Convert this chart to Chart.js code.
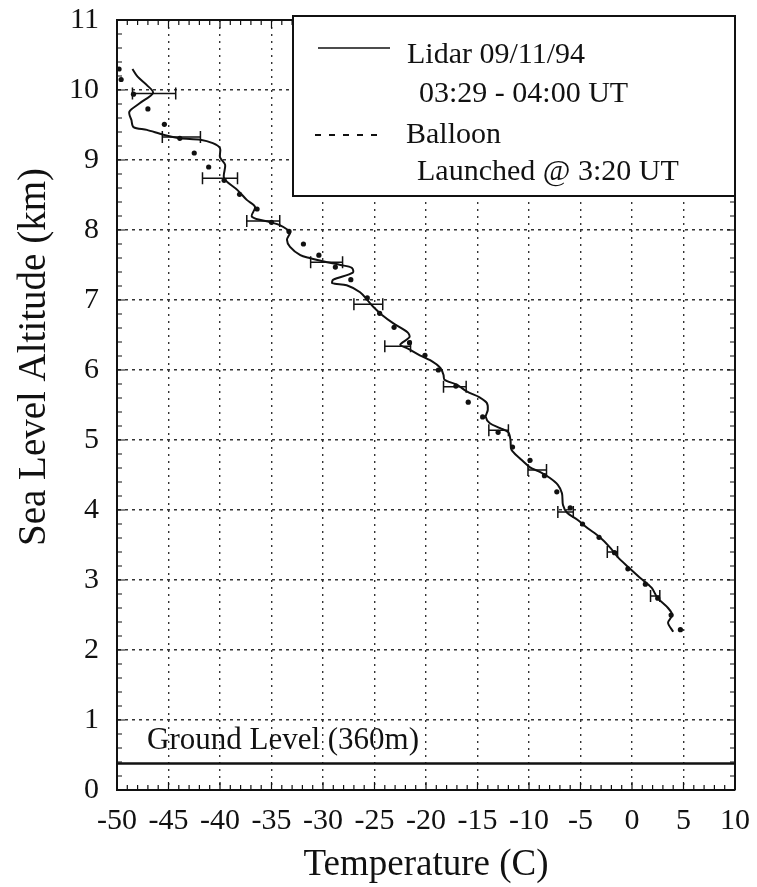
<!DOCTYPE html>
<html>
<head>
<meta charset="utf-8">
<title>Lidar vs balloon temperature profile</title>
<script src="https://cdn.jsdelivr.net/npm/chart.js@4.4.1/dist/chart.umd.min.js"></script>
<style>
  html, body { margin: 0; padding: 0; background: #fff; }
  #profile { display: block; }
</style>
</head>
<body>
<canvas id="profile" width="757" height="887"></canvas>
<script>
// lidar profile, top to bottom (temperature C / altitude km)
const lidarTemp = [-48.5, -48.0, -47.1, -46.5, -47.8, -48.8, -48.6, -48.4, -47.1, -45.5,
  -43.9, -41.9, -40.7, -40.0, -40.0, -39.5, -39.6, -38.3, -37.4, -36.6,
  -36.9, -35.1, -34.2, -33.4, -33.2, -33.5, -33.2, -32.2, -31.3, -29.6,
  -28.3, -27.2, -27.1, -29.0, -29.1, -27.7, -26.4, -25.7, -25.1, -24.3,
  -23.2, -21.8, -21.6, -22.5, -21.8, -20.6, -19.6, -18.6, -18.3, -18.2,
  -17.0, -16.0, -14.8, -14.1, -14.0, -14.2, -13.8, -12.8, -12.0, -11.8,
  -11.7, -10.9, -9.9, -8.9, -8.0, -7.2, -6.8, -6.7, -6.3, -5.3,
  -4.3, -3.2, -2.1, -1.4, -0.4, 0.8, 1.9, 2.5, 3.5, 3.9, 3.5, 4.0];
const lidarAlt = [10.3, 10.19, 10.07, 9.96, 9.81, 9.69, 9.57, 9.47, 9.43, 9.36,
  9.31, 9.29, 9.24, 9.17, 9.04, 8.93, 8.74, 8.57, 8.43, 8.33,
  8.19, 8.11, 8.07, 8.0, 7.96, 7.86, 7.76, 7.64, 7.6, 7.54,
  7.5, 7.46, 7.39, 7.29, 7.24, 7.21, 7.11, 7.0, 6.9, 6.79,
  6.67, 6.54, 6.47, 6.36, 6.31, 6.21, 6.14, 6.03, 5.93, 5.86,
  5.79, 5.69, 5.61, 5.53, 5.43, 5.33, 5.24, 5.17, 5.11, 5.0,
  4.86, 4.74, 4.61, 4.54, 4.46, 4.36, 4.24, 4.07, 3.96, 3.86,
  3.74, 3.62, 3.46, 3.33, 3.19, 3.03, 2.89, 2.74, 2.6, 2.5, 2.39, 2.26];

// balloon sonde points
const balloonTemp = [-49.8, -49.6, -48.4, -47.0, -45.4, -43.9, -42.5, -41.1, -39.6, -38.1,
  -36.4, -35.0, -33.3, -31.9, -30.4, -28.8, -27.3, -25.7, -24.5, -23.1,
  -21.6, -20.1, -18.8, -17.1, -15.9, -14.5, -13.0, -11.6, -9.9, -8.5,
  -7.3, -6.0, -4.8, -3.2, -1.7, -0.4, 1.3, 2.5, 3.8, 4.7];
const balloonAlt = [10.3, 10.15, 9.94, 9.73, 9.51, 9.31, 9.1, 8.9, 8.71, 8.51,
  8.3, 8.11, 7.98, 7.8, 7.64, 7.47, 7.29, 7.03, 6.81, 6.61,
  6.39, 6.21, 6.0, 5.77, 5.54, 5.33, 5.11, 4.9, 4.71, 4.49,
  4.26, 4.03, 3.8, 3.61, 3.39, 3.16, 2.94, 2.74, 2.5, 2.29];

// lidar error bars
const errAlt = [9.95, 9.33, 8.74, 8.13, 7.54, 6.94, 6.34, 5.76, 5.14, 4.57, 3.97, 3.40, 2.77];
const errLow = [-48.5, -45.6, -41.7, -37.4, -31.2, -27.0, -24.0, -18.3, -13.9, -10.1, -7.2, -2.4, 1.8];
const errHigh = [-44.3, -41.9, -38.3, -34.2, -28.1, -24.2, -21.5, -16.1, -12.0, -8.3, -5.7, -1.4, 2.7];

const groundAlt = 0.38;
const groundEnds = [-50, 10];

const serif = '"Liberation Serif", "Times New Roman", serif';
const ink = '#111';

function pairs(xs, ys) {
  return xs.map((v, i) => ({ x: v, y: ys[i] }));
}

// hide grid lines that sit on the frame
function gridColor(c) {
  const s = c.scale;
  if (!c.tick || c.tick.value === s.min || c.tick.value === s.max) return 'rgba(0,0,0,0)';
  return '#333';
}

const paperPlugin = {
  id: 'paper',
  beforeDraw(chart) {
    const ctx = chart.ctx;
    ctx.save();
    ctx.fillStyle = '#fff';
    ctx.fillRect(0, 0, chart.width, chart.height);
    ctx.restore();
  },
  afterDatasetsDraw(chart) {
    const { ctx, chartArea: a, scales: { x, y } } = chart;
    ctx.save();
    ctx.strokeStyle = ink;

    // error bars
    ctx.lineWidth = 1.5;
    errAlt.forEach((alt, i) => {
      const py = y.getPixelForValue(alt);
      const x1 = x.getPixelForValue(errLow[i]);
      const x2 = x.getPixelForValue(errHigh[i]);
      ctx.beginPath();
      ctx.moveTo(x1, py); ctx.lineTo(x2, py);
      ctx.moveTo(x1, py - 6); ctx.lineTo(x1, py + 6);
      ctx.moveTo(x2, py - 6); ctx.lineTo(x2, py + 6);
      ctx.stroke();
    });

    // minor ticks, pointing inward
    ctx.lineWidth = 1.2;
    ctx.beginPath();
    for (let k = 0; k <= 55; k++) {
      const py = y.getPixelForValue(k / 5);
      const len = k % 5 === 0 ? 8 : 5;
      ctx.moveTo(a.left, py); ctx.lineTo(a.left + len, py);
      ctx.moveTo(a.right, py); ctx.lineTo(a.right - len, py);
    }
    for (let t = -50; t <= 10; t++) {
      const px = x.getPixelForValue(t);
      const len = t % 5 === 0 ? 8 : 5;
      ctx.moveTo(px, a.bottom); ctx.lineTo(px, a.bottom - len);
      ctx.moveTo(px, a.top); ctx.lineTo(px, a.top + len);
    }
    ctx.stroke();

    // top and right frame
    ctx.lineWidth = 2;
    ctx.beginPath();
    ctx.moveTo(a.left, a.top); ctx.lineTo(a.right, a.top); ctx.lineTo(a.right, a.bottom);
    ctx.stroke();
    ctx.restore();
  },
  afterDraw(chart) {
    const { ctx, chartArea: a, scales: { y } } = chart;
    ctx.save();
    ctx.fillStyle = ink;
    ctx.strokeStyle = ink;
    ctx.textAlign = 'left';
    ctx.textBaseline = 'alphabetic';

    // ground label
    ctx.font = '31px ' + serif;
    ctx.fillText('Ground Level (360m)', a.left + 30, y.getPixelForValue(groundAlt) - 14);

    // y axis title (sits above centre in the original)
    ctx.save();
    ctx.translate(a.left - 72, (a.top + a.bottom) / 2 - 48);
    ctx.rotate(-Math.PI / 2);
    ctx.textAlign = 'center';
    ctx.font = '39px ' + serif;
    ctx.fillText('Sea Level Altitude (km)', 0, 0);
    ctx.restore();

    // legend box
    const L = a.right - 442, T = a.top - 4;
    ctx.fillStyle = '#fff';
    ctx.fillRect(L, T, 442, 180);
    ctx.lineWidth = 2;
    ctx.strokeRect(L, T, 442, 180);

    ctx.beginPath();
    ctx.lineWidth = 1.5;
    ctx.moveTo(L + 25, T + 32); ctx.lineTo(L + 97, T + 32);
    ctx.stroke();
    ctx.beginPath();
    ctx.lineWidth = 2;
    ctx.setLineDash([6, 8]);
    ctx.moveTo(L + 22, T + 119); ctx.lineTo(L + 90, T + 119);
    ctx.stroke();
    ctx.setLineDash([]);

    ctx.fillStyle = ink;
    ctx.font = '30px ' + serif;
    ctx.fillText('Lidar 09/11/94', L + 114, T + 47);
    ctx.fillText('03:29 - 04:00 UT', L + 126, T + 86);
    ctx.fillText('Balloon', L + 113, T + 127);
    ctx.fillText('Launched @ 3:20 UT', L + 124, T + 164);
    ctx.restore();
  }
};

new Chart(document.getElementById('profile'), {
  type: 'scatter',
  data: {
    datasets: [
      {
        label: 'Lidar 09/11/94',
        data: pairs(lidarTemp, lidarAlt),
        showLine: true,
        borderColor: ink,
        borderWidth: 2,
        pointRadius: 0,
        tension: 0.3
      },
      {
        label: 'Balloon',
        data: pairs(balloonTemp, balloonAlt),
        showLine: false,
        backgroundColor: ink,
        borderColor: ink,
        pointRadius: 2.6,
        pointBorderWidth: 0
      },
      {
        label: 'Ground Level',
        data: groundEnds.map(t => ({ x: t, y: groundAlt })),
        showLine: true,
        borderColor: ink,
        borderWidth: 2.5,
        pointRadius: 0
      }
    ]
  },
  options: {
    responsive: false,
    animation: false,
    layout: { padding: { top: 20, right: 22, left: 0, bottom: 0 } },
    plugins: {
      legend: { display: false },
      tooltip: { enabled: false }
    },
    scales: {
      x: {
        type: 'linear',
        min: -50,
        max: 10,
        ticks: {
          stepSize: 5,
          autoSkip: false,
          maxRotation: 0,
          padding: 13,
          color: ink,
          font: { family: serif, size: 30 }
        },
        grid: { color: gridColor, lineWidth: 1.4, drawTicks: false },
        border: { display: true, color: ink, width: 2, dash: [2, 5] },
        title: {
          display: true,
          text: 'Temperature (C)',
          color: ink,
          font: { family: serif, size: 37 },
          padding: { top: 0, bottom: 0 }
        },
        afterFit(s) {
          s.height = 97;
          s.paddingLeft = 0;
          s.paddingRight = 0;
        }
      },
      y: {
        type: 'linear',
        min: 0,
        max: 11,
        ticks: {
          stepSize: 1,
          padding: 18,
          color: ink,
          font: { family: serif, size: 30 }
        },
        grid: { color: gridColor, lineWidth: 1.4, drawTicks: false },
        border: { display: true, color: ink, width: 2, dash: [3, 4] },
        afterFit(s) {
          s.width = 117;
          s.paddingTop = 0;
          s.paddingBottom = 0;
        }
      }
    }
  },
  plugins: [paperPlugin]
});
</script>
</body>
</html>
